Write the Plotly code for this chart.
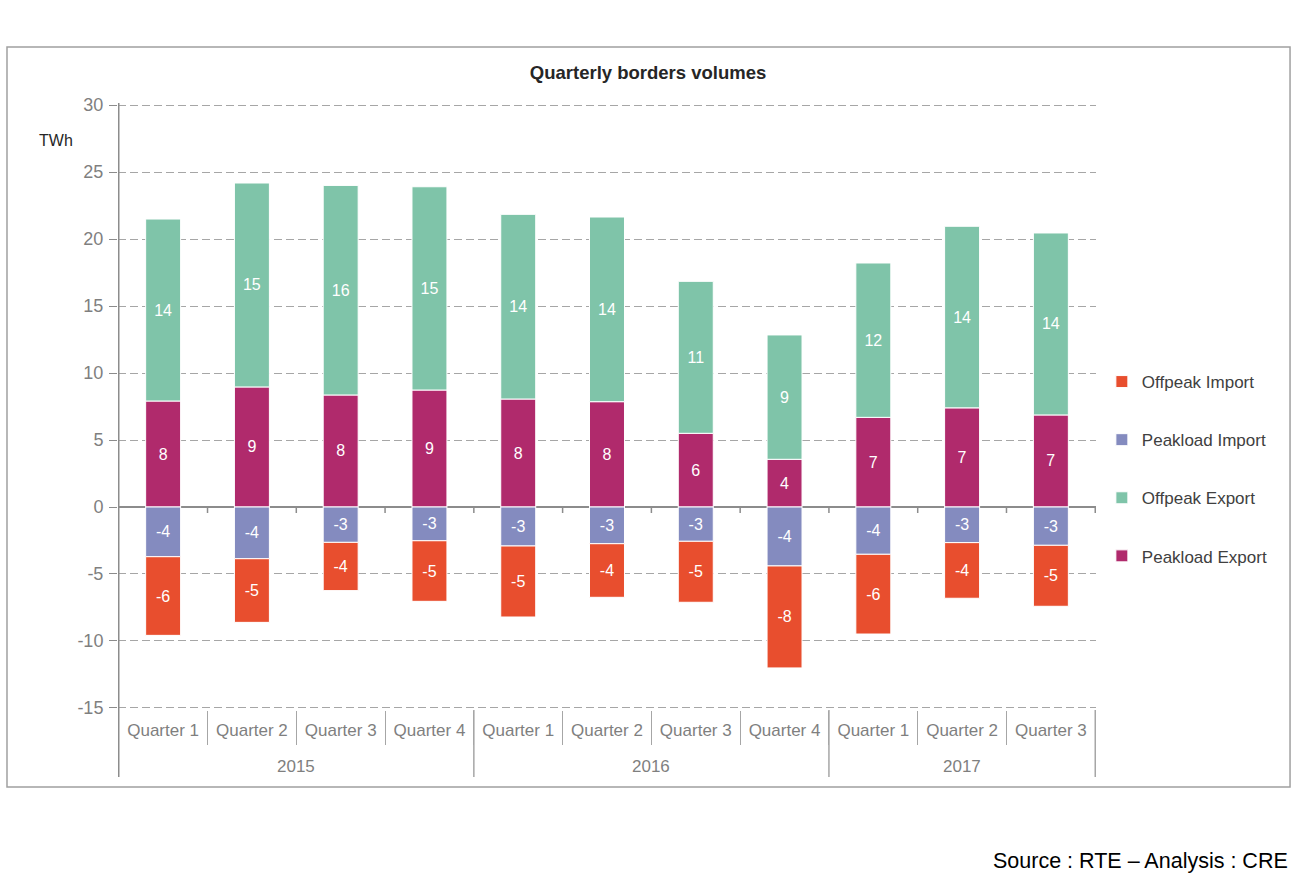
import plotly.graph_objects as go

# Quarterly cross-border volumes (TWh)
years = ["2015"] * 4 + ["2016"] * 4 + ["2017"] * 3
quarters = ["Quarter 1", "Quarter 2", "Quarter 3", "Quarter 4",
            "Quarter 1", "Quarter 2", "Quarter 3", "Quarter 4",
            "Quarter 1", "Quarter 2", "Quarter 3"]

peakload_export = [7.91, 8.96, 8.36, 8.73, 8.06, 7.86, 5.50, 3.56, 6.69, 7.40, 6.87]
offpeak_export = [13.58, 15.22, 15.64, 15.17, 13.78, 13.78, 11.34, 9.28, 11.52, 13.55, 13.58]
peakload_import = [-3.71, -3.86, -2.64, -2.52, -2.91, -2.74, -2.56, -4.40, -3.53, -2.66, -2.86]
offpeak_import = [-5.87, -4.75, -3.60, -4.52, -5.30, -4.00, -4.55, -7.61, -5.95, -4.15, -4.55]

y_ticks = [-15, -10, -5, 0, 5, 10, 15, 20, 25, 30]
y_tick_labels = ["-15", "-10", "-5", "0", "5", "10", "15", "20", "25", "30"]

# (name, values, colour, legend position)
series = [
    ("Peakload Export", peakload_export, "#B02A6C", 4),
    ("Offpeak Export", offpeak_export, "#7FC4A9", 3),
    ("Peakload Import", peakload_import, "#848BBF", 2),
    ("Offpeak Import", offpeak_import, "#E84E2E", 1),
]

FONT = "Liberation Sans"
GREY = "#7f7f7f"
LINE = "#a6a6a6"

# one unique category per quarter, labelled with the quarter name only
cat_keys = [f"{y} {q}" for y, q in zip(years, quarters)]

fig = go.Figure()
for name, vals, color, rank in series:
    fig.add_trace(go.Bar(
        name=name,
        x=cat_keys,
        y=vals,
        marker=dict(color=color, line=dict(color="white", width=1)),
        texttemplate="%{y:.0f}",
        textposition="inside",
        insidetextanchor="middle",
        textangle=0,
        constraintext="none",
        textfont=dict(family=FONT, size=16, color="white"),
        legendgroup=name,
        legendrank=rank,
        hoverinfo="name+y",
    ))

# plot area: top 103 px, bottom 710 px, 607 px tall
fig.update_layout(
    width=1305, height=877,
    barmode="relative",
    bargap=0.606,
    plot_bgcolor="white",
    paper_bgcolor="white",
    margin=dict(l=118, r=209, t=103, b=167),
    font=dict(family=FONT, size=16, color="#404040"),
    title=dict(text="<b>Quarterly borders volumes</b>", x=0.4966, y=0.9168,
               xref="container", yref="container", xanchor="center", yanchor="middle",
               font=dict(family=FONT, size=18.5, color="#262626")),
    legend=dict(traceorder="grouped", x=1.006, y=0.397,
                xanchor="left", yanchor="middle",
                font=dict(family=FONT, size=17, color="#404040"),
                tracegroupgap=33, itemwidth=30, bgcolor="rgba(0,0,0,0)"),
    showlegend=True,
)

fig.update_yaxes(
    range=[-15.15, 30.15],
    tickvals=y_ticks, ticktext=y_tick_labels,
    showgrid=True, gridcolor=LINE, griddash="8px,4px", gridwidth=1,
    zeroline=True, zerolinecolor="#8c8c8c", zerolinewidth=1.5,
    showline=False,
    ticks="outside", ticklen=8, tickcolor="#8c8c8c",
    ticklabelstandoff=2,
    tickfont=dict(family=FONT, size=18, color=GREY),
)

fig.update_xaxes(
    type="category",
    categoryorder="array", categoryarray=cat_keys,
    tickvals=cat_keys, ticktext=quarters,
    showgrid=False, showline=False, zeroline=False,
    ticks="outside", tickson="boundaries", ticklen=34, tickcolor=LINE,
    ticklabelstandoff=8,
    tickfont=dict(family=FONT, size=17, color=GREY),
)

# year group labels and group dividers, derived from the year list
groups = []
for i, y in enumerate(years):
    if not groups or groups[-1][0] != y:
        groups.append([y, i, i])
    else:
        groups[-1][2] = i

for y, first, last in groups:
    fig.add_annotation(text=y, xref="x", yref="paper", x=(first + last) / 2, y=-0.0923,
                       showarrow=False, yanchor="middle",
                       font=dict(family=FONT, size=17, color=GREY))
    fig.add_shape(type="line", xref="x", yref="paper", x0=last + 0.5, x1=last + 0.5,
                  y0=0, y1=-0.1104, line=dict(color=LINE, width=1.5))

# vertical axis line, running down through both label rows
fig.add_shape(type="line", xref="x", yref="paper", x0=-0.5, x1=-0.5,
              y0=1, y1=-0.1104, line=dict(color="#8c8c8c", width=1.5))

# small tick marks below the zero line at every category boundary
for i in range(len(cat_keys)):
    fig.add_shape(type="line", xref="x", yref="y", ysizemode="pixel", yanchor=0,
                  x0=i + 0.5, x1=i + 0.5, y0=0, y1=-6,
                  line=dict(color="#8c8c8c", width=1.5))

# outer frame
fig.add_shape(type="rect", xref="paper", yref="paper",
              x0=-0.1135, x1=1.1984, y0=-0.1269, y1=1.0923,
              line=dict(color="#a0a0a0", width=1.5), fillcolor="rgba(0,0,0,0)", layer="below")

fig.add_annotation(text="TWh", xref="paper", yref="paper", x=-0.0828, y=0.9555,
                   showarrow=False, font=dict(family=FONT, size=16, color="#262626"))
fig.add_annotation(text="Source : RTE \u2013 Analysis : CRE", xref="paper", yref="paper",
                   x=1.1984, y=-0.2488, xanchor="right", yanchor="middle", showarrow=False,
                   font=dict(family=FONT, size=21.5, color="#000000"))

fig.write_html("out.html")
